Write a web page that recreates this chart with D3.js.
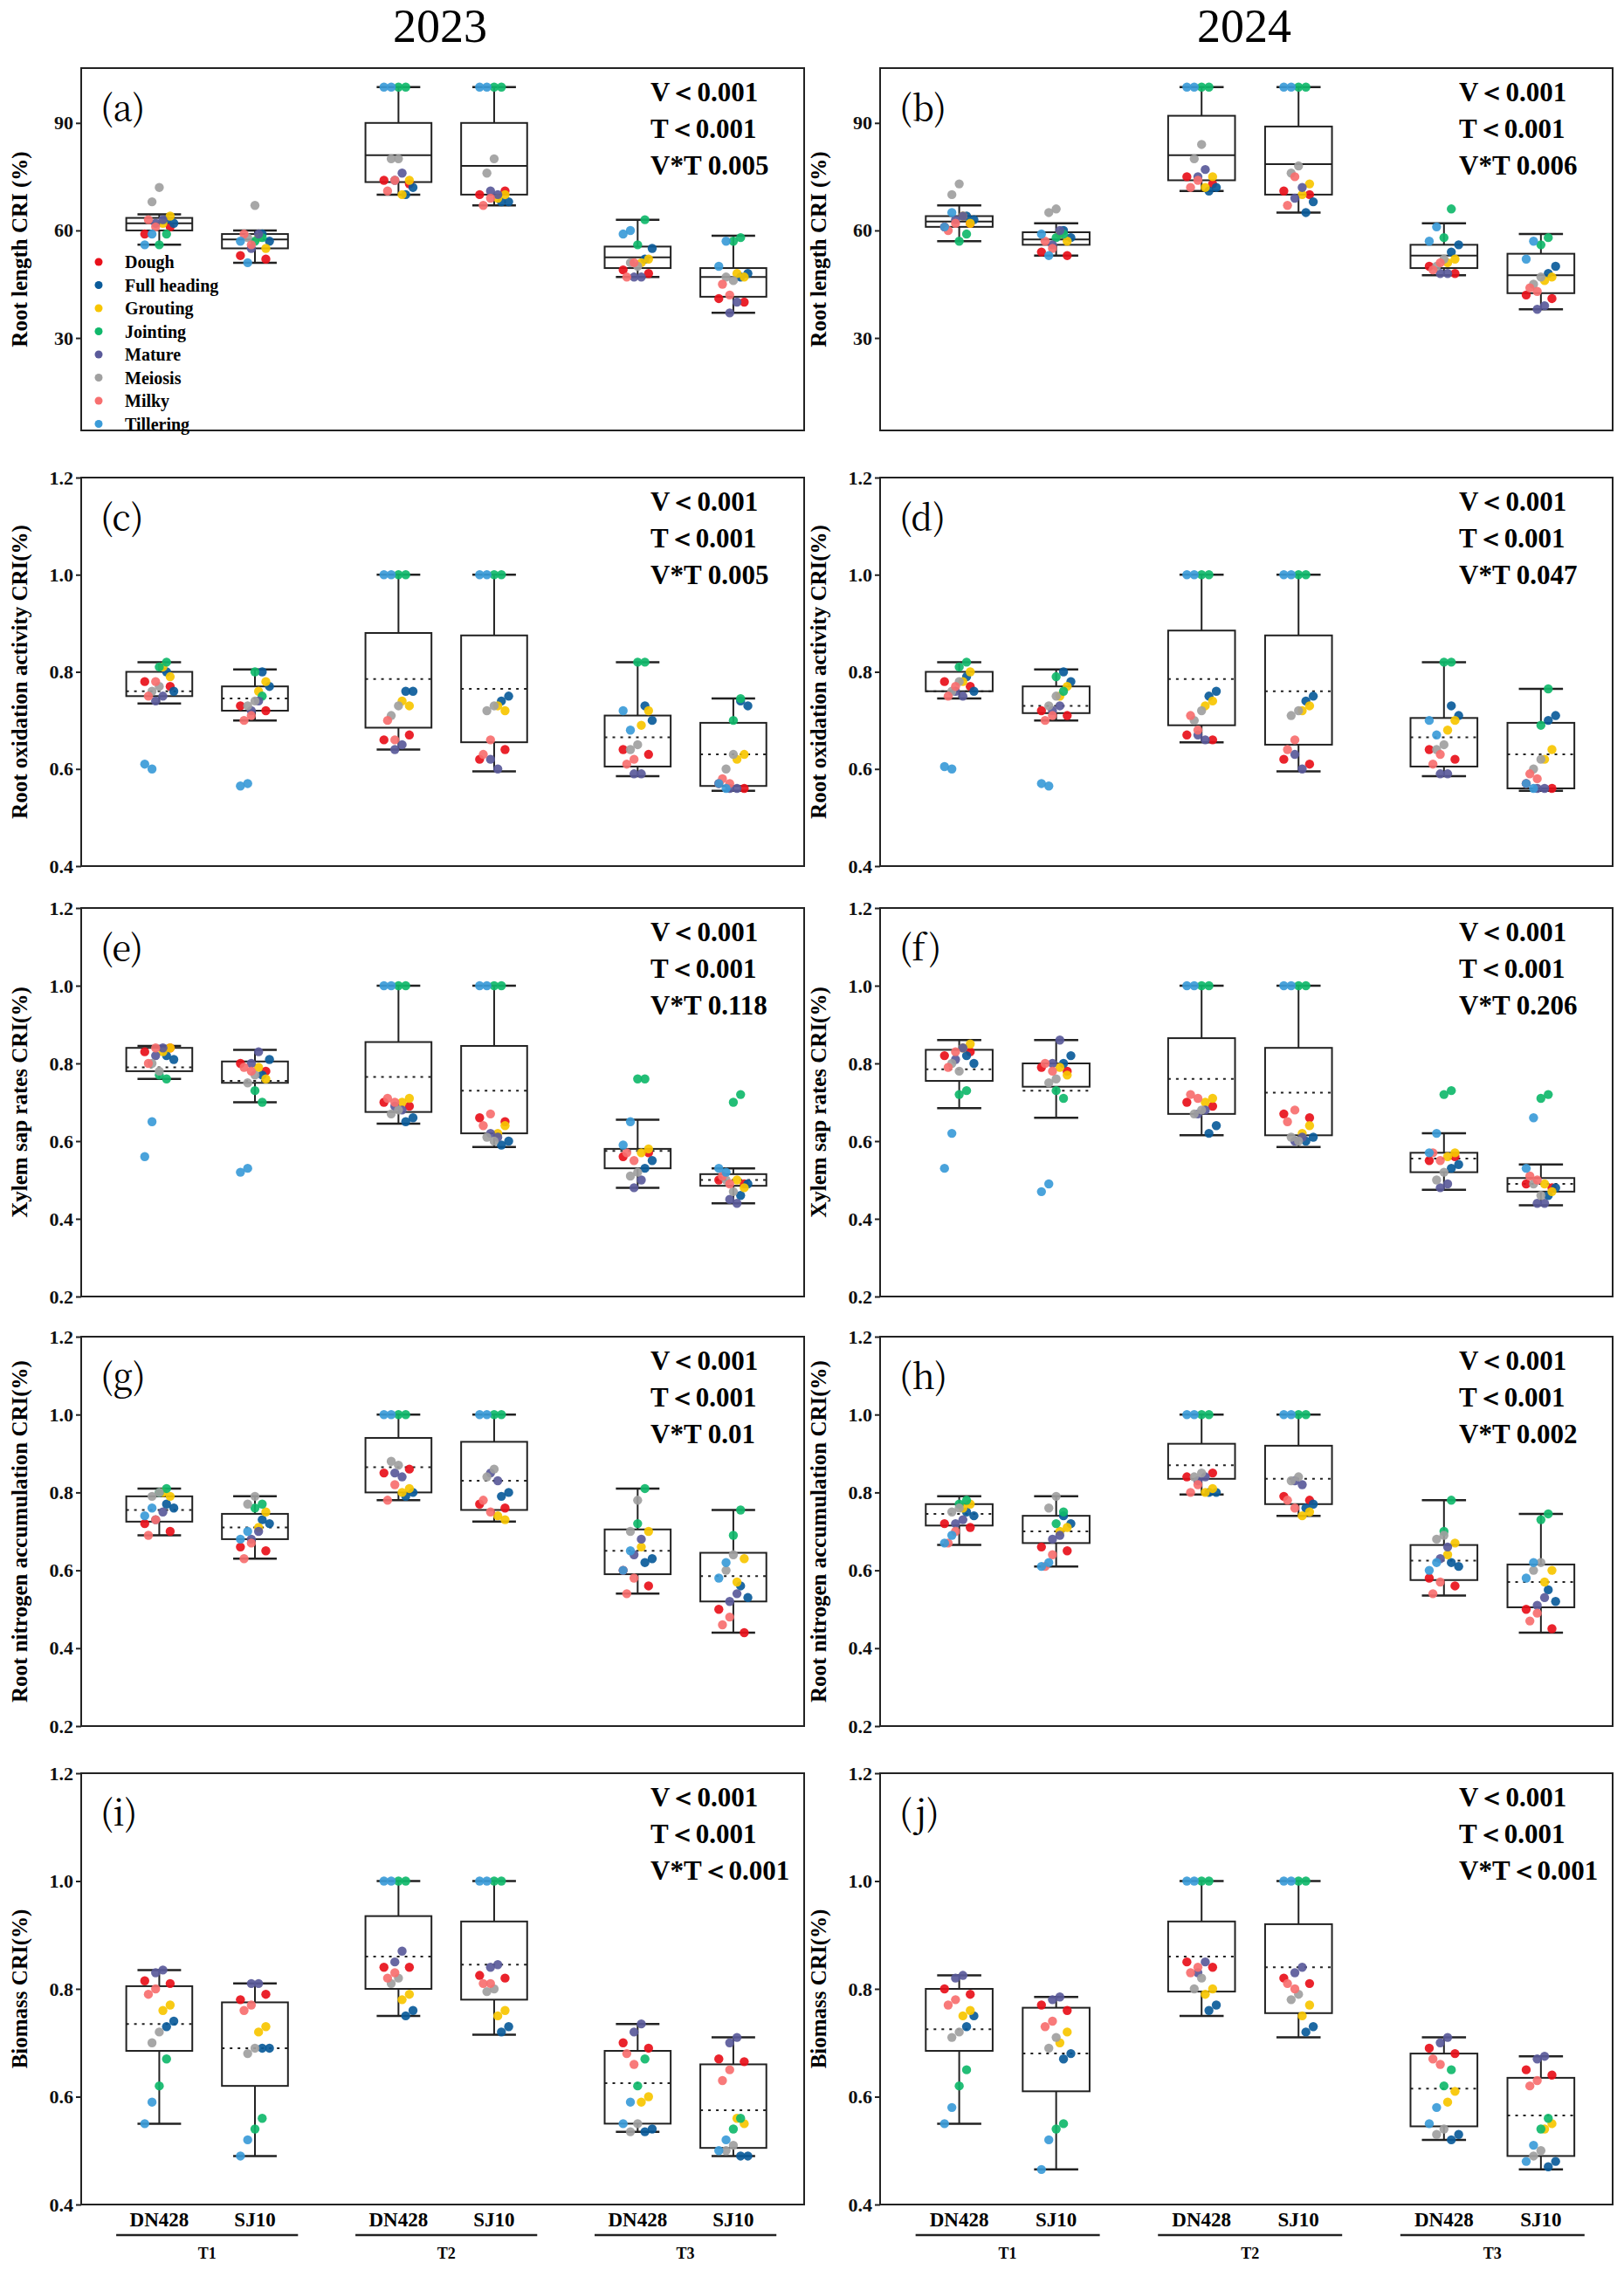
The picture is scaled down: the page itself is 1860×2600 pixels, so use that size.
<!DOCTYPE html>
<html><head><meta charset="utf-8">
<script src="https://cdn.jsdelivr.net/npm/d3@7"></script>
<style>body{margin:0;background:#fff}</style>
</head><body>
<svg id="c" width="1860" height="2600"></svg>
<script>
const stages=["Dough","Full heading","Grouting","Jointing","Mature","Meiosis","Milky","Tillering"];
const stageColors=["#e8101a","#0a5b9a","#f7c500","#10b86b","#5a5a9a","#a0a0a0","#f76f6f","#3b9bd8"];
const groups=["DN428","SJ10","DN428","SJ10","DN428","SJ10"];
const treatments=["T1","T2","T3"];
const panelLetters=["(a)","(b)","(c)","(d)","(e)","(f)","(g)","(h)","(i)","(j)"];
const yTitles=["Root length CRI (%)","Root oxidation activity CRI(%)","Xylem sap rates CRI(%)","Root nitrogen accumulation CRI(%)","Biomass CRI(%)"];
const yDomains=[[4.2,105.3],[0.4,1.2],[0.2,1.2],[0.2,1.2],[0.4,1.2]];
const yTicks=[[30,60,90],[0.4,0.6,0.8,1.0,1.2],[0.2,0.4,0.6,0.8,1.0,1.2],[0.2,0.4,0.6,0.8,1.0,1.2],[0.4,0.6,0.8,1.0,1.2]];
const stats=[["V＜0.001","T＜0.001","V*T 0.005"],["V＜0.001","T＜0.001","V*T 0.006"],["V＜0.001","T＜0.001","V*T 0.005"],["V＜0.001","T＜0.001","V*T 0.047"],["V＜0.001","T＜0.001","V*T 0.118"],["V＜0.001","T＜0.001","V*T 0.206"],["V＜0.001","T＜0.001","V*T 0.01"],["V＜0.001","T＜0.001","V*T 0.002"],["V＜0.001","T＜0.001","V*T＜0.001"],["V＜0.001","T＜0.001","V*T＜0.001"]];
const boxes=[
[[56,60,62,63.5,64.5],[51,55,57.5,59,60],[70,73.5,81,90,100],[67,70,78,90,100],[47,49.5,52.5,55.5,63],[37,41.5,47,49.5,58.5]],
[[57,61,62.5,64,67],[53,56,57.5,59.5,62],[71,74,81,92,100],[65,70,78.5,89,100],[47.5,49.5,53,56,62],[38,42.5,47.5,53.5,59]],
[[0.735,0.75,0.76,0.80,0.82],[0.70,0.72,0.745,0.77,0.805],[0.64,0.685,0.785,0.88,1.0],[0.595,0.655,0.765,0.875,1.0],[0.585,0.605,0.665,0.71,0.82],[0.555,0.565,0.63,0.695,0.745]],
[[0.745,0.76,0.76,0.80,0.82],[0.70,0.715,0.73,0.77,0.805],[0.655,0.69,0.785,0.885,1.0],[0.595,0.65,0.76,0.875,1.0],[0.585,0.605,0.665,0.705,0.82],[0.555,0.56,0.63,0.695,0.765]],
[[0.76,0.78,0.79,0.84,0.845],[0.70,0.75,0.755,0.805,0.835],[0.645,0.675,0.765,0.855,1.0],[0.585,0.62,0.73,0.845,1.0],[0.48,0.53,0.575,0.58,0.655],[0.44,0.485,0.50,0.515,0.53]],
[[0.685,0.755,0.785,0.835,0.86],[0.66,0.74,0.73,0.80,0.86],[0.615,0.67,0.76,0.865,1.0],[0.585,0.615,0.725,0.84,1.0],[0.475,0.52,0.555,0.57,0.62],[0.435,0.47,0.49,0.505,0.54]],
[[0.69,0.725,0.755,0.79,0.81],[0.63,0.68,0.71,0.745,0.79],[0.78,0.80,0.865,0.94,1.0],[0.725,0.755,0.83,0.93,1.0],[0.54,0.59,0.65,0.705,0.81],[0.44,0.52,0.585,0.645,0.755]],
[[0.665,0.715,0.745,0.77,0.79],[0.61,0.67,0.70,0.74,0.79],[0.795,0.835,0.87,0.925,1.0],[0.74,0.77,0.835,0.92,1.0],[0.535,0.575,0.625,0.665,0.78],[0.44,0.505,0.57,0.615,0.745]],
[[0.55,0.685,0.735,0.805,0.835],[0.49,0.62,0.69,0.775,0.81],[0.75,0.80,0.86,0.935,1.0],[0.715,0.78,0.845,0.925,1.0],[0.535,0.55,0.625,0.685,0.735],[0.49,0.505,0.575,0.66,0.71]],
[[0.55,0.685,0.725,0.80,0.825],[0.465,0.61,0.68,0.765,0.785],[0.75,0.795,0.86,0.925,1.0],[0.71,0.755,0.84,0.92,1.0],[0.52,0.545,0.615,0.68,0.71],[0.465,0.49,0.565,0.635,0.675]]
];
const points=[
[[[59,61],[62,63],[64,62],[59,56],[63,62],[72,68],[61,63],[59,56]],
 [[53,52],[57,59],[55,58],[58,57],[59,55],[67,58],[56,59],[51,57]],
 [[74,73],[72,70],[74,70],[100,100],[76,74],[80,80],[74,71],[100,100]],
 [[70,71],[68,68],[70,69],[100,100],[70,71],[80,76],[69,67],[100,100]],
 [[49,48],[55,52],[52,51],[63,56],[47,47],[50,51],[51,47],[60,59]],
 [[41,40],[48,47],[47,48],[58,57],[40,37],[46,47],[42,45],[57,50]]],
[[[61,62],[63,64],[62,64],[59,57],[64,63],[73,70],[62,60],[65,61]],
 [[54,53],[58,60],[57,59],[59,58],[60,56],[66,65],[55,57],[53,59]],
 [[75,73],[72,71],[75,72],[100,100],[77,75],[84,80],[74,72],[100,100]],
 [[71,70],[68,65],[73,70],[100,100],[72,69],[78,76],[75,67],[100,100]],
 [[50,48],[56,54],[52,51],[66,58],[48,48],[52,50],[51,49],[61,57]],
 [[42,41],[50,48],[47,46],[58,56],[39,38],[47,45],[43,44],[57,52]]],
[[[0.78,0.77],[0.76,0.80],[0.79,0.81],[0.82,0.81],[0.75,0.74],[0.77,0.76],[0.78,0.75],[0.60,0.61]],
 [[0.73,0.72],[0.77,0.80],[0.78,0.76],[0.75,0.80],[0.74,0.72],[0.74,0.73],[0.71,0.70],[0.57,0.565]],
 [[0.66,0.67],[0.76,0.76],[0.73,0.74],[1,1],[0.65,0.64],[0.73,0.71],[0.66,0.70],[1,1]],
 [[0.62,0.64],[0.75,0.74],[0.72,0.73],[1,1],[0.60,0.62],[0.73,0.72],[0.66,0.63],[1,1]],
 [[0.64,0.63],[0.70,0.73],[0.72,0.69],[0.82,0.82],[0.59,0.59],[0.65,0.64],[0.62,0.61],[0.68,0.72]],
 [[0.57,0.56],[0.73,0.74],[0.63,0.62],[0.745,0.70],[0.56,0.56],[0.63,0.60],[0.57,0.58],[0.56,0.57]]],
[[[0.78,0.77],[0.76,0.79],[0.80,0.78],[0.82,0.81],[0.75,0.76],[0.78,0.76],[0.77,0.75],[0.60,0.605]],
 [[0.72,0.71],[0.78,0.80],[0.77,0.75],[0.76,0.79],[0.73,0.72],[0.75,0.73],[0.71,0.70],[0.565,0.57]],
 [[0.67,0.66],[0.76,0.75],[0.74,0.73],[1,1],[0.66,0.67],[0.72,0.70],[0.68,0.71],[1,1]],
 [[0.62,0.61],[0.75,0.74],[0.73,0.72],[1,1],[0.60,0.63],[0.72,0.71],[0.66,0.64],[1,1]],
 [[0.64,0.62],[0.71,0.73],[0.70,0.68],[0.82,0.82],[0.59,0.59],[0.65,0.64],[0.63,0.61],[0.67,0.70]],
 [[0.57,0.56],[0.71,0.70],[0.64,0.62],[0.765,0.69],[0.56,0.56],[0.62,0.60],[0.58,0.59],[0.56,0.57]]],
[[[0.83,0.84],[0.81,0.82],[0.84,0.83],[0.76,0.77],[0.84,0.82],[0.78,0.80],[0.84,0.80],[0.65,0.56]],
 [[0.80,0.78],[0.81,0.77],[0.76,0.79],[0.70,0.73],[0.83,0.80],[0.77,0.75],[0.78,0.79],[0.53,0.52]],
 [[0.70,0.69],[0.66,0.65],[0.71,0.70],[1,1],[0.68,0.69],[0.68,0.67],[0.70,0.71],[1,1]],
 [[0.66,0.65],[0.60,0.59],[0.64,0.62],[1,1],[0.61,0.62],[0.60,0.61],[0.67,0.64],[1,1]],
 [[0.56,0.57],[0.55,0.53],[0.58,0.57],[0.76,0.76],[0.50,0.48],[0.52,0.51],[0.55,0.57],[0.65,0.59]],
 [[0.50,0.49],[0.49,0.46],[0.48,0.50],[0.72,0.70],[0.44,0.45],[0.47,0.50],[0.49,0.51],[0.52,0.53]]],
[[[0.82,0.83],[0.80,0.82],[0.85,0.84],[0.73,0.72],[0.84,0.81],[0.78,0.80],[0.83,0.79],[0.62,0.53]],
 [[0.79,0.78],[0.82,0.80],[0.77,0.79],[0.71,0.73],[0.86,0.80],[0.76,0.75],[0.78,0.80],[0.49,0.47]],
 [[0.70,0.69],[0.64,0.62],[0.71,0.70],[1,1],[0.68,0.67],[0.68,0.67],[0.71,0.72],[1,1]],
 [[0.67,0.66],[0.61,0.60],[0.64,0.62],[1,1],[0.61,0.60],[0.60,0.61],[0.68,0.65],[1,1]],
 [[0.55,0.56],[0.54,0.53],[0.57,0.56],[0.73,0.72],[0.49,0.48],[0.52,0.50],[0.55,0.57],[0.62,0.57]],
 [[0.49,0.48],[0.48,0.46],[0.47,0.49],[0.72,0.71],[0.44,0.44],[0.46,0.49],[0.50,0.51],[0.66,0.53]]],
[[[0.72,0.70],[0.76,0.77],[0.79,0.80],[0.81,0.80],[0.75,0.73],[0.80,0.79],[0.73,0.69],[0.76,0.74]],
 [[0.66,0.65],[0.72,0.73],[0.75,0.71],[0.77,0.76],[0.70,0.68],[0.79,0.77],[0.67,0.63],[0.70,0.68]],
 [[0.85,0.86],[0.80,0.79],[0.81,0.80],[1,1],[0.84,0.85],[0.87,0.88],[0.82,0.78],[1,1]],
 [[0.77,0.76],[0.80,0.79],[0.73,0.74],[1,1],[0.83,0.85],[0.86,0.84],[0.75,0.78],[1,1]],
 [[0.60,0.56],[0.63,0.62],[0.70,0.66],[0.81,0.72],[0.68,0.64],[0.78,0.70],[0.58,0.54],[0.65,0.60]],
 [[0.50,0.44],[0.53,0.56],[0.63,0.57],[0.755,0.69],[0.54,0.52],[0.64,0.60],[0.48,0.46],[0.62,0.58]]],
[[[0.72,0.71],[0.74,0.75],[0.77,0.76],[0.78,0.77],[0.73,0.72],[0.76,0.75],[0.70,0.67],[0.69,0.67]],
 [[0.66,0.65],[0.72,0.74],[0.71,0.70],[0.75,0.72],[0.69,0.68],[0.79,0.76],[0.64,0.61],[0.62,0.61]],
 [[0.84,0.85],[0.80,0.80],[0.81,0.80],[1,1],[0.84,0.83],[0.85,0.84],[0.82,0.80],[1,1]],
 [[0.79,0.78],[0.77,0.76],[0.75,0.74],[1,1],[0.82,0.83],[0.84,0.83],[0.76,0.78],[1,1]],
 [[0.58,0.56],[0.61,0.62],[0.67,0.64],[0.78,0.70],[0.66,0.63],[0.69,0.68],[0.57,0.54],[0.62,0.60]],
 [[0.50,0.45],[0.52,0.55],[0.60,0.57],[0.745,0.73],[0.53,0.51],[0.62,0.60],[0.49,0.47],[0.62,0.58]]],
[[[0.815,0.81],[0.74,0.73],[0.77,0.76],[0.67,0.62],[0.835,0.83],[0.72,0.70],[0.80,0.79],[0.59,0.55]],
 [[0.78,0.79],[0.69,0.69],[0.73,0.72],[0.56,0.54],[0.81,0.81],[0.69,0.68],[0.77,0.76],[0.52,0.49]],
 [[0.84,0.84],[0.76,0.75],[0.79,0.78],[1,1],[0.87,0.85],[0.82,0.81],[0.83,0.82],[1,1]],
 [[0.825,0.82],[0.73,0.72],[0.76,0.75],[1,1],[0.845,0.84],[0.80,0.795],[0.81,0.81],[1,1]],
 [[0.70,0.69],[0.54,0.535],[0.60,0.59],[0.67,0.62],[0.735,0.72],[0.55,0.535],[0.66,0.68],[0.59,0.55]],
 [[0.67,0.665],[0.49,0.49],[0.55,0.56],[0.56,0.54],[0.71,0.70],[0.51,0.50],[0.65,0.63],[0.52,0.50]]],
[[[0.80,0.79],[0.75,0.73],[0.76,0.75],[0.65,0.62],[0.825,0.82],[0.72,0.71],[0.78,0.77],[0.58,0.55]],
 [[0.77,0.76],[0.68,0.67],[0.72,0.70],[0.55,0.54],[0.785,0.78],[0.71,0.69],[0.74,0.73],[0.52,0.465]],
 [[0.85,0.84],[0.77,0.76],[0.80,0.79],[1,1],[0.85,0.83],[0.82,0.80],[0.84,0.83],[1,1]],
 [[0.82,0.81],[0.73,0.72],[0.77,0.75],[1,1],[0.84,0.83],[0.79,0.78],[0.80,0.81],[1,1]],
 [[0.69,0.68],[0.53,0.52],[0.61,0.59],[0.65,0.62],[0.71,0.70],[0.54,0.53],[0.66,0.67],[0.58,0.55]],
 [[0.65,0.64],[0.48,0.47],[0.55,0.54],[0.56,0.54],[0.675,0.67],[0.50,0.49],[0.63,0.62],[0.51,0.48]]]
];

const svg=d3.select("#c");
const serif="'Liberation Serif','Times New Roman',serif";
const cols=[[93,921],[1008,1847]];
const rows=[[78,493],[547,992],[1040,1485],[1531,1977],[2031,2525]];
const groupPos=[0,1,2.5,3.5,5,6];
svg.append("text").attr("x",504).attr("y",48).attr("text-anchor","middle").style("font-family",serif).style("font-size","54px").text("2023");
svg.append("text").attr("x",1425).attr("y",48).attr("text-anchor","middle").style("font-family",serif).style("font-size","54px").text("2024");

for(let p=0;p<10;p++){
  const r=Math.floor(p/2), c=p%2;
  const [x0,x1]=cols[c],[y0,y1]=rows[r];
  const x=d3.scaleLinear().domain([-0.816,6.74]).range([x0,x1]);
  const y=d3.scaleLinear().domain(yDomains[r]).range([y1,y0]);
  const g=svg.append("g");
  const bw=(x(1)-x(0))*0.69;
  g.append("rect").attr("x",x0).attr("y",y0).attr("width",x1-x0).attr("height",y1-y0).attr("fill","none").attr("stroke","#222").attr("stroke-width",2);
  const ax=g.append("g").attr("transform",`translate(${x0},0)`).call(d3.axisLeft(y).tickValues(yTicks[r]).tickSize(6).tickFormat(r==0?d3.format("d"):d3.format(".1f")));
  ax.select(".domain").remove();
  ax.selectAll("line").attr("stroke","#222").attr("stroke-width",2);
  ax.selectAll("text").style("font-family",serif).style("font-weight","bold").style("font-size","22px").attr("fill","#111");
  g.append("text").attr("transform",`translate(${x0-62},${(y0+y1)/2}) rotate(-90)`).attr("text-anchor","middle").style("font-family",serif).style("font-weight","bold").style("font-size","25px").text(yTitles[r]);
  g.append("text").attr("x",x0+22).attr("y",y0+60).style("font-family","'Noto Serif CJK SC','DejaVu Serif',serif").style("font-size","40px").text(panelLetters[p]);
  stats[p].forEach((s,i)=>g.append("text").attr("x",x1-176).attr("y",y0+38+i*42).style("font-family",serif).style("font-weight","bold").style("font-size","31px").text(s));
  boxes[p].forEach((b,gi)=>{
    const cx=x(groupPos[gi]);
    g.append("line").attr("x1",cx).attr("x2",cx).attr("y1",y(b[0])).attr("y2",y(b[4])).attr("stroke","#222").attr("stroke-width",2);
    [b[0],b[4]].forEach(v=>g.append("line").attr("x1",cx-bw*0.33).attr("x2",cx+bw*0.33).attr("y1",y(v)).attr("y2",y(v)).attr("stroke","#222").attr("stroke-width",2.5));
    g.append("rect").attr("x",cx-bw/2).attr("width",bw).attr("y",y(b[3])).attr("height",y(b[1])-y(b[3])).attr("fill","#fff").attr("stroke","#222").attr("stroke-width",2);
    g.append("line").attr("x1",cx-bw/2).attr("x2",cx+bw/2).attr("y1",y(b[2])).attr("y2",y(b[2])).attr("stroke","#222").attr("stroke-width",2).attr("stroke-dasharray",r==0?null:"3,6");
    let k=0;
    points[p][gi].forEach((vals,si)=>vals.forEach(v=>{
      const j=((k*7+si*3)%9-4)/4*bw*0.22; k++;
      g.append("circle").attr("cx",cx+j).attr("cy",y(v)).attr("r",5.2).attr("fill",stageColors[si]).attr("opacity",0.92);
    }));
  });
  if(p==0){
    stages.forEach((s,i)=>{
      g.append("circle").attr("cx",x0+20).attr("cy",y0+222+i*26.5).attr("r",4.5).attr("fill",stageColors[i]);
      g.append("text").attr("x",x0+50).attr("y",y0+229+i*26.5).style("font-family",serif).style("font-weight","bold").style("font-size","20px").text(s);
    });
  }
  if(r==4){
    groups.forEach((gn,gi)=>g.append("text").attr("x",x(groupPos[gi])).attr("y",y1+25).attr("text-anchor","middle").style("font-family",serif).style("font-weight","bold").style("font-size","23px").text(gn));
    treatments.forEach((t,ti)=>{
      const a=x(groupPos[ti*2]-0.45),bb=x(groupPos[ti*2+1]+0.45);
      g.append("line").attr("x1",a).attr("x2",bb).attr("y1",y1+35).attr("y2",y1+35).attr("stroke","#222").attr("stroke-width",2.5);
      g.append("text").attr("x",(a+bb)/2).attr("y",y1+62).attr("text-anchor","middle").style("font-family",serif).style("font-weight","bold").style("font-size","18px").text(t);
    });
  }
}
</script>
</body></html>
